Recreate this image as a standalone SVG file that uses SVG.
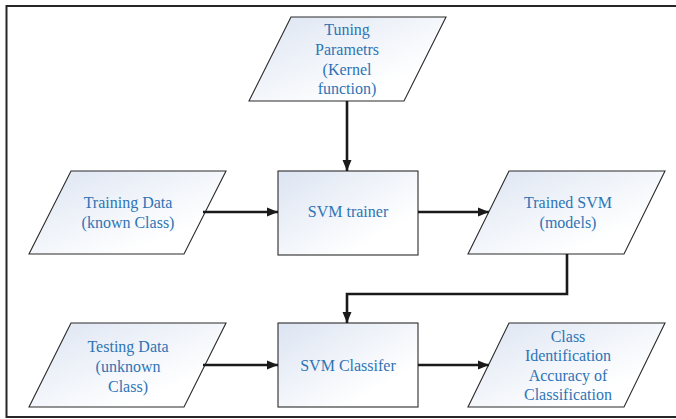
<svg xmlns="http://www.w3.org/2000/svg" width="676" height="419" viewBox="0 0 676 419">
  <defs>
    <linearGradient id="boxFill" x1="0" y1="0" x2="1" y2="1">
      <stop offset="0" stop-color="#dce4f2"/>
      <stop offset="0.75" stop-color="#ffffff"/>
    </linearGradient>
    <marker id="arrow" markerUnits="userSpaceOnUse" markerWidth="12" markerHeight="10" refX="11" refY="5" orient="auto">
      <path d="M0,0.5 L11,5 L0,9.5 Z" fill="#1a1a1a"/>
    </marker>
    <style>
      .shape { fill: url(#boxFill); stroke: #2b2b2b; stroke-width: 1.1; }
      .label { font-family: 'Liberation Serif', serif; font-size: 16px; fill: #2e74b5; text-anchor: middle; }
      .conn { fill: none; stroke: #1a1a1a; stroke-width: 2.6; marker-end: url(#arrow); }
      .frame { fill: none; stroke: #262626; stroke-width: 2; }
    </style>
  </defs>

  <rect width="676" height="419" fill="#ffffff"/>
  <path class="frame" d="M680,6 H6.5 V417 H680"/>

  <g font-family="Liberation Serif, serif">
  <g id="tuning">
    <polygon class="shape" points="291,17 446,17 404,101 249,101"/>
    <text class="label" x="347" y="35">Tuning</text>
    <text class="label" x="347" y="55">Parametrs</text>
    <text class="label" x="347" y="75">(Kernel</text>
    <text class="label" x="347" y="94">function)</text>
  </g>

  <g id="training-data">
    <polygon class="shape" points="71,171 226,171 184,254 29,254"/>
    <text class="label" x="128" y="208">Training Data</text>
    <text class="label" x="128" y="228">(known Class)</text>
  </g>

  <g id="svm-trainer">
    <rect class="shape" x="278" y="171" width="140" height="84"/>
    <text class="label" x="348" y="217">SVM trainer</text>
  </g>

  <g id="trained-svm">
    <polygon class="shape" points="509,171 665,171 624,254 468,254"/>
    <text class="label" x="568" y="208">Trained SVM</text>
    <text class="label" x="568" y="228">(models)</text>
  </g>

  <g id="testing-data">
    <polygon class="shape" points="71,323 226,323 184,407 29,407"/>
    <text class="label" x="128" y="352">Testing Data</text>
    <text class="label" x="128" y="372">(unknown</text>
    <text class="label" x="128" y="392">Class)</text>
  </g>

  <g id="svm-classifier">
    <rect class="shape" x="278" y="323" width="140" height="84"/>
    <text class="label" x="348" y="371">SVM Classifer</text>
  </g>

  <g id="class-identification">
    <polygon class="shape" points="509,323 665,323 624,407 468,407"/>
    <text class="label" x="568" y="342">Class</text>
    <text class="label" x="568" y="361">Identification</text>
    <text class="label" x="568" y="381">Accuracy of</text>
    <text class="label" x="568" y="400">Classification</text>
  </g>
  </g>

  <g id="connectors">
    <path class="conn" d="M347,101 V171"/>
    <path class="conn" d="M203,212 H278"/>
    <path class="conn" d="M418,212 H489"/>
    <path class="conn" d="M567,254 V294 H347 V323"/>
    <path class="conn" d="M203,365 H278"/>
    <path class="conn" d="M418,365 H489"/>
  </g>
</svg>
